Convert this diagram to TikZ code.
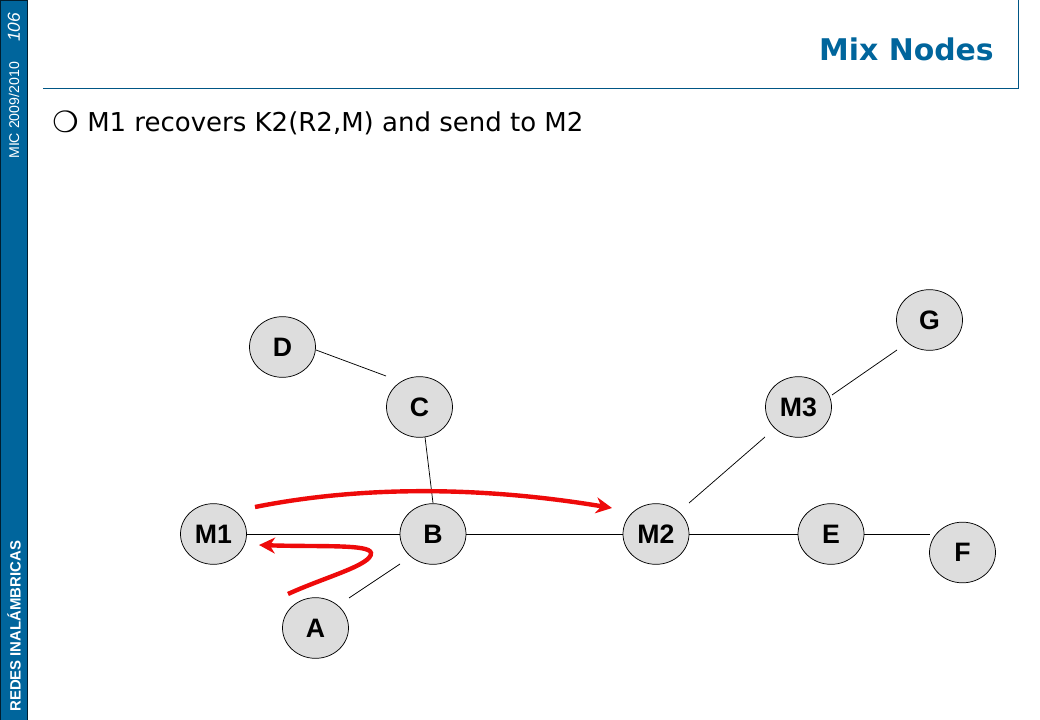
\documentclass[tikz,border=0pt]{standalone}
\usepackage{fontspec}
\setmainfont{Liberation Sans}
\newfontfamily\verd{DejaVu Sans}
\definecolor{slideblue}{HTML}{00659C}
\definecolor{nodegray}{HTML}{DDDDDD}
\definecolor{arrowred}{HTML}{EE0A0A}
\usetikzlibrary{arrows.meta,shapes.geometric}
\tikzset{
  pc/.style={x=0.75pt,y=-0.75pt},
  netnode/.style={ellipse,draw=black,line width=0.55pt,fill=nodegray,minimum width=49.5pt,minimum height=45.5pt,inner sep=0pt,font=\fontsize{20}{22}\selectfont\bfseries},
  link/.style={draw=black,line width=0.55pt},
  redarrow/.style={draw=arrowred,line width=3.3pt,-{Stealth[length=12pt,width=12pt]}},
  rule/.style={draw=slideblue!85!black,line width=0.75pt},
  sidetext/.style={rotate=90,anchor=west,inner sep=0pt,text=white}
}
\begin{document}
\begin{tikzpicture}[pc]
\useasboundingbox (0,0) rectangle (1040,720);
\fill[white] (0,0) rectangle (1040,720);
% sidebar
\path[fill=slideblue,draw=black!70!slideblue,line width=0.6pt] (0,0) rectangle (27.5,720);
\node[sidetext,font=\fontsize{11.2}{13}\selectfont\bfseries] (sidea) at (14,712) {REDES INALÁMBRICAS};
\node[sidetext,font=\fontsize{10.6}{12}\selectfont] (sideb) at (14,159) {MIC 2009/2010};
\node[sidetext,font=\fontsize{13}{15}\selectfont\itshape] (sidec) at (14,42) {106};
% title frame
\coordinate (ruleL) at (43,88.5);
\coordinate (ruleR) at (1018.5,88.5);
\coordinate (ruleT) at (1018.5,0);
\draw[rule] (ruleL) -- (ruleR) -- (ruleT);
\node[anchor=east,inner sep=0pt,text=slideblue,font=\verd\fontsize{22.4}{26}\selectfont\bfseries] (title) at (994,49) {Mix Nodes};
\node[anchor=center,inner sep=0pt,font=\verd\fontsize{22}{26}\selectfont\bfseries] (bullet) at (65.5,122) {❍};
\node[anchor=west,inner sep=0pt,font=\verd\fontsize{19.5}{23}\selectfont] (body) at (87,123.5) {M1 recovers K2(R2,M) and send to M2};
% nodes
\node[netnode] (M1) at (213.5,534) {M1};
\node[netnode] (B) at (433,534) {B};
\node[netnode] (M2) at (656,534) {M2};
\node[netnode] (E) at (831,534) {E};
\node[netnode] (F) at (962.5,552.5) {F};
\node[netnode] (A) at (315.5,628) {A};
\node[netnode] (C) at (419.5,407) {C};
\node[netnode] (D) at (282.5,347) {D};
\node[netnode] (M3) at (798.5,407) {M3};
\node[netnode] (G) at (929.5,320) {G};
% free ends of the gapped links
\coordinate (dA) at (316,350);
\coordinate (dB) at (386,376);
\coordinate (aA) at (349,598);
\coordinate (aB) at (400,564);
\coordinate (mA) at (689,503);
\coordinate (mB) at (765,437);
\coordinate (gA) at (832,395);
\coordinate (gB) at (897,350);
\coordinate (eA) at (864,534);
\coordinate (eB) at (930,534);
\coordinate (cA) at (425,437);
\coordinate (cB) at (433,503);
\draw[link] (M1.east) -- (B.west);
\draw[link] (B.east) -- (M2.west);
\draw[link] (M2.east) -- (E.west);
\draw[link] (eA) -- (eB);
\draw[link] (dA) -- (dB);
\draw[link] (cA) -- (cB);
\draw[link] (aA) -- (aB);
\draw[link] (mA) -- (mB);
\draw[link] (gA) -- (gB);
% red arrows
\coordinate (r1s) at (255,507);
\coordinate (r1e) at (612,508);
\coordinate (r2s) at (288,594);
\coordinate (r2e) at (259,545);
\draw[redarrow] (r1s) .. controls (360,486) and (480,486) .. (r1e);
\draw[redarrow] (r2s) .. controls (325,577) and (372,565) .. (371,553) .. controls (370,544) and (320,547) .. (r2e);
\end{tikzpicture}
\end{document}
